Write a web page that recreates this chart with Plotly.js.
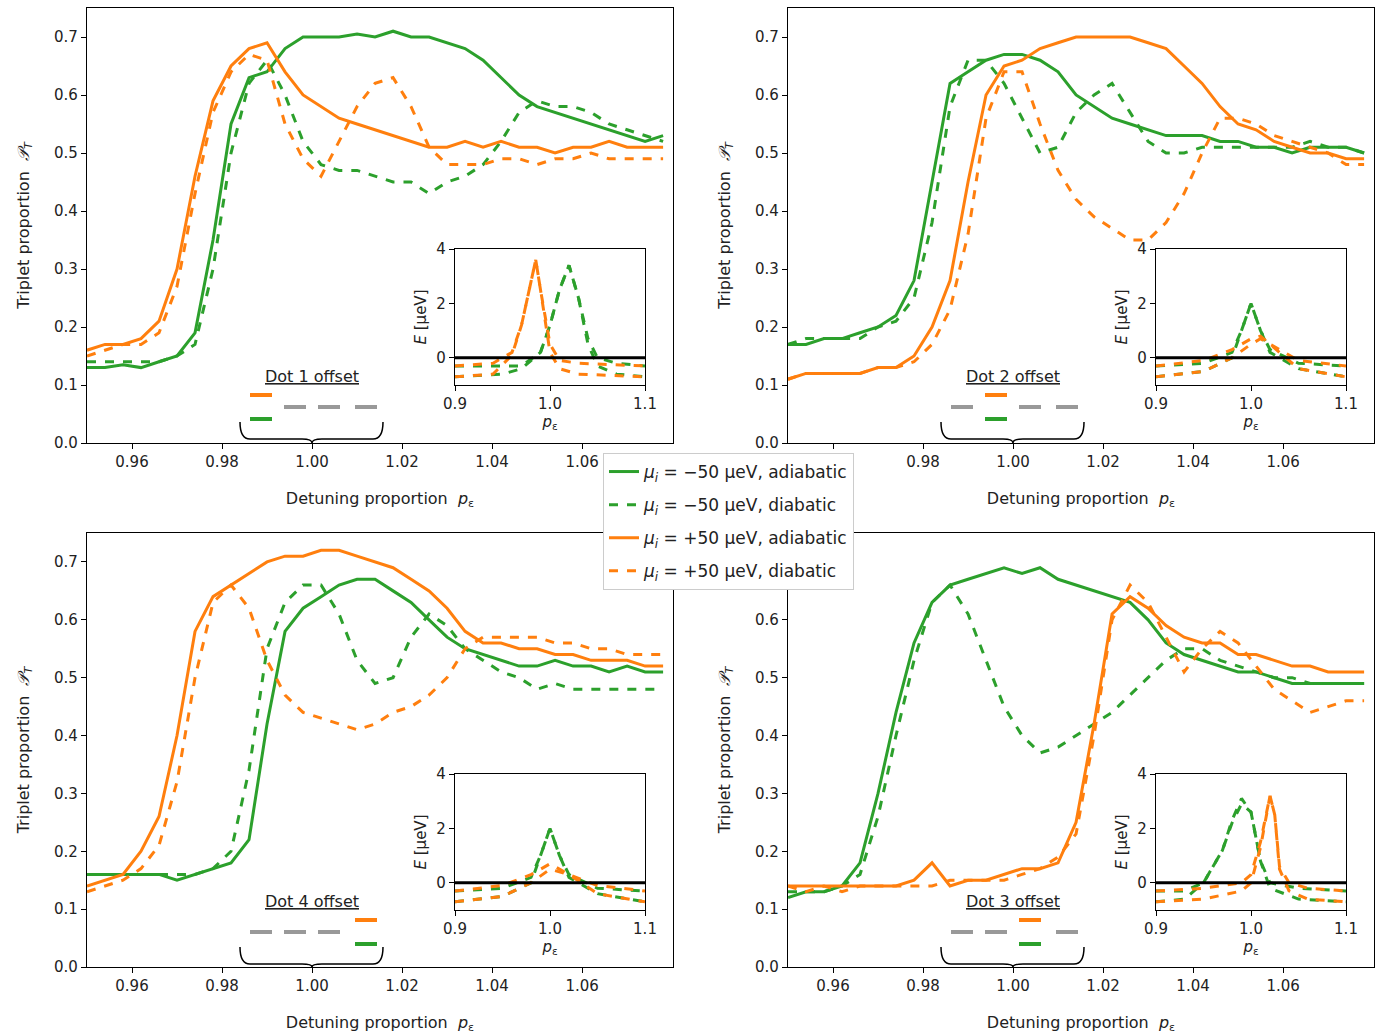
<!DOCTYPE html>
<html>
<head>
<meta charset="utf-8">
<script src="https://cdn.plot.ly/plotly-3.0.1.min.js"></script>
<style>body{margin:0;background:#fff}#chart{width:1384px;height:1034px}</style>
</head>
<body>
<div id="chart"></div>
<script>
var green = '#2ca02c', orange = '#ff7f0e';
var W = 1384, H = 1034;

// detuning grid for main panels
var pe = [];
for (var i = 0; i < 33; i++) pe.push(+(0.95 + 0.004 * i).toFixed(3));

// top-left: Dot 1 offset
var tlGreenAd = [0.13,0.13,0.135,0.13,0.14,0.15,0.19,0.35,0.55,0.63,0.64,0.68,0.70,0.70,0.70,0.705,0.70,0.71,0.70,0.70,0.69,0.68,0.66,0.63,0.60,0.58,0.57,0.56,0.55,0.54,0.53,0.52,0.53];
var tlGreenDi = [0.14,0.14,0.14,0.14,0.14,0.15,0.17,0.30,0.50,0.62,0.66,0.60,0.52,0.48,0.47,0.47,0.46,0.45,0.45,0.43,0.45,0.46,0.48,0.52,0.57,0.59,0.58,0.58,0.57,0.55,0.54,0.53,0.52];
var tlOrangeAd = [0.16,0.17,0.17,0.18,0.21,0.30,0.46,0.59,0.65,0.68,0.69,0.64,0.60,0.58,0.56,0.55,0.54,0.53,0.52,0.51,0.51,0.52,0.51,0.52,0.51,0.51,0.50,0.51,0.51,0.52,0.51,0.51,0.51];
var tlOrangeDi = [0.15,0.16,0.17,0.17,0.19,0.27,0.43,0.57,0.64,0.67,0.66,0.55,0.49,0.46,0.52,0.58,0.62,0.63,0.58,0.51,0.48,0.48,0.48,0.49,0.49,0.48,0.49,0.49,0.50,0.49,0.49,0.49,0.49];

// top-right: Dot 2 offset
var trGreenAd = [0.17,0.17,0.18,0.18,0.19,0.20,0.22,0.28,0.45,0.62,0.64,0.66,0.67,0.67,0.66,0.64,0.60,0.58,0.56,0.55,0.54,0.53,0.53,0.53,0.52,0.52,0.51,0.51,0.50,0.51,0.51,0.51,0.50];
var trGreenDi = [0.17,0.18,0.18,0.18,0.18,0.20,0.21,0.25,0.38,0.58,0.66,0.66,0.62,0.56,0.50,0.51,0.57,0.60,0.62,0.57,0.52,0.50,0.50,0.51,0.51,0.51,0.51,0.51,0.51,0.52,0.51,0.51,0.50];
var trOrangeAd = [0.11,0.12,0.12,0.12,0.12,0.13,0.13,0.15,0.20,0.28,0.45,0.60,0.65,0.66,0.68,0.69,0.70,0.70,0.70,0.70,0.69,0.68,0.65,0.62,0.58,0.55,0.54,0.52,0.51,0.50,0.50,0.49,0.49];
var trOrangeDi = [0.11,0.12,0.12,0.12,0.12,0.13,0.13,0.14,0.17,0.23,0.36,0.56,0.64,0.64,0.55,0.47,0.42,0.39,0.37,0.35,0.35,0.38,0.43,0.50,0.56,0.56,0.55,0.53,0.52,0.51,0.50,0.48,0.48];

// bottom-left: Dot 4 offset
var blGreenAd = [0.16,0.16,0.16,0.16,0.16,0.15,0.16,0.17,0.18,0.22,0.42,0.58,0.62,0.64,0.66,0.67,0.67,0.65,0.63,0.60,0.57,0.55,0.54,0.53,0.52,0.52,0.53,0.52,0.52,0.51,0.52,0.51,0.51];
var blGreenDi = [0.16,0.16,0.16,0.16,0.16,0.16,0.16,0.17,0.20,0.34,0.55,0.63,0.66,0.66,0.61,0.53,0.49,0.50,0.57,0.61,0.59,0.55,0.53,0.51,0.50,0.48,0.49,0.48,0.48,0.48,0.48,0.48,0.48];
var blOrangeAd = [0.14,0.15,0.16,0.20,0.26,0.40,0.58,0.64,0.66,0.68,0.70,0.71,0.71,0.72,0.72,0.71,0.70,0.69,0.67,0.65,0.62,0.58,0.56,0.56,0.55,0.55,0.54,0.54,0.53,0.53,0.53,0.52,0.52];
var blOrangeDi = [0.13,0.14,0.15,0.17,0.21,0.32,0.50,0.63,0.66,0.62,0.53,0.47,0.44,0.43,0.42,0.41,0.42,0.44,0.45,0.47,0.50,0.55,0.57,0.57,0.57,0.57,0.56,0.56,0.55,0.55,0.54,0.54,0.54];

// bottom-right: Dot 3 offset
var brGreenAd = [0.12,0.13,0.13,0.14,0.18,0.30,0.44,0.56,0.63,0.66,0.67,0.68,0.69,0.68,0.69,0.67,0.66,0.65,0.64,0.63,0.60,0.56,0.54,0.53,0.52,0.51,0.51,0.50,0.49,0.49,0.49,0.49,0.49];
var brGreenDi = [0.13,0.13,0.13,0.14,0.16,0.26,0.40,0.53,0.63,0.66,0.61,0.53,0.45,0.40,0.37,0.38,0.40,0.42,0.44,0.47,0.50,0.53,0.55,0.55,0.53,0.52,0.51,0.50,0.50,0.49,0.49,0.49,0.49];
var brOrangeAd = [0.14,0.14,0.14,0.14,0.14,0.14,0.14,0.15,0.18,0.14,0.15,0.15,0.16,0.17,0.17,0.18,0.25,0.42,0.61,0.64,0.62,0.59,0.57,0.56,0.56,0.54,0.54,0.53,0.52,0.52,0.51,0.51,0.51];
var brOrangeDi = [0.14,0.13,0.14,0.13,0.14,0.14,0.14,0.14,0.14,0.15,0.15,0.15,0.15,0.16,0.17,0.19,0.23,0.40,0.60,0.66,0.63,0.57,0.51,0.55,0.58,0.56,0.52,0.48,0.46,0.44,0.45,0.46,0.46];

// insets: energy E [μeV] vs p_ε, two branches per colour
var tlInGx = [0.9,0.95,0.97,0.99,1.0,1.01,1.02,1.03,1.04,1.05,1.07,1.1];
var tlInGa = [-0.3,-0.3,-0.3,0.2,1.2,2.5,3.4,2.2,0.5,-0.3,-0.6,-0.7];
var tlInGb = [-0.7,-0.6,-0.4,0.2,1.2,2.5,3.4,2.2,0.7,0.0,-0.2,-0.3];
var tlInOx = [0.9,0.94,0.96,0.97,0.98,0.985,0.99,1.0,1.01,1.03,1.1];
var tlInOa = [-0.3,-0.2,0.2,1.2,2.8,3.6,2.5,0.2,-0.4,-0.6,-0.7];
var tlInOb = [-0.7,-0.6,0.1,1.2,2.8,3.6,2.5,0.5,-0.1,-0.2,-0.3];

var trInGx = [0.9,0.95,0.98,0.99,1.0,1.01,1.02,1.05,1.1];
var trInGa = [-0.3,-0.2,0.2,1.0,2.0,1.0,0.2,-0.4,-0.7];
var trInGb = [-0.7,-0.5,0.0,1.0,2.0,1.0,0.3,-0.2,-0.3];
var trInOx = [0.9,0.95,0.98,1.0,1.01,1.03,1.05,1.1];
var trInOa = [-0.3,-0.1,0.3,0.7,0.8,0.2,-0.4,-0.7];
var trInOb = [-0.7,-0.5,0.0,0.5,0.7,0.3,-0.1,-0.3];

var blInGx = [0.9,0.95,0.98,0.99,1.0,1.01,1.02,1.05,1.1];
var blInGa = [-0.3,-0.2,0.2,1.0,2.0,1.0,0.2,-0.4,-0.7];
var blInGb = [-0.7,-0.5,0.0,1.0,2.0,1.0,0.3,-0.2,-0.3];
var blInOx = [0.9,0.95,0.98,1.0,1.02,1.05,1.1];
var blInOa = [-0.3,-0.1,0.3,0.7,0.3,-0.4,-0.7];
var blInOb = [-0.7,-0.5,0.0,0.5,0.3,-0.1,-0.3];

var brInGx = [0.9,0.93,0.95,0.97,0.98,0.99,1.0,1.01,1.02,1.05,1.1];
var brInGa = [-0.3,-0.3,0.0,1.2,2.2,2.9,2.6,0.8,-0.2,-0.6,-0.7];
var brInGb = [-0.7,-0.6,0.0,1.2,2.3,3.1,2.6,0.8,0.0,-0.2,-0.3];
var brInOx = [0.9,0.95,0.99,1.0,1.01,1.02,1.025,1.03,1.04,1.06,1.1];
var brInOa = [-0.3,-0.2,0.0,0.3,1.5,3.2,2.5,0.5,-0.3,-0.6,-0.7];
var brInOb = [-0.7,-0.6,-0.3,0.0,1.3,3.2,2.5,0.6,0.0,-0.2,-0.3];

var legendNames = ['<i>μ<sub>i</sub></i> = −50 μeV, adiabatic', '<i>μ<sub>i</sub></i> = −50 μeV, diabatic',
                   '<i>μ<sub>i</sub></i> = +50 μeV, adiabatic', '<i>μ<sub>i</sub></i> = +50 μeV, diabatic'];

var panels = [
  {curves: [tlGreenAd, tlGreenDi, tlOrangeAd, tlOrangeDi], ins: [tlInGx, tlInGa, tlInGb, tlInOx, tlInOa, tlInOb],
   px: [87, 673], py: [8, 443], label: 'Dot 1 offset', slot: 0},
  {curves: [trGreenAd, trGreenDi, trOrangeAd, trOrangeDi], ins: [trInGx, trInGa, trInGb, trInOx, trInOa, trInOb],
   px: [788, 1374], py: [8, 443], label: 'Dot 2 offset', slot: 1},
  {curves: [blGreenAd, blGreenDi, blOrangeAd, blOrangeDi], ins: [blInGx, blInGa, blInGb, blInOx, blInOa, blInOb],
   px: [87, 673], py: [533, 967], label: 'Dot 4 offset', slot: 3},
  {curves: [brGreenAd, brGreenDi, brOrangeAd, brOrangeDi], ins: [brInGx, brInGa, brInGb, brInOx, brInOa, brInOb],
   px: [788, 1374], py: [533, 967], label: 'Dot 3 offset', slot: 2}
];

function fx(p) { return p / W; }
function fy(p) { return 1 - p / H; }

var data = [], shapes = [], annotations = [];
var layout = {
  width: W, height: H, margin: {l: 0, r: 0, t: 0, b: 0},
  paper_bgcolor: '#fff', plot_bgcolor: '#fff',
  font: {family: 'DejaVu Sans, sans-serif', size: 15, color: '#222'},
  showlegend: true,
  legend: {x: fx(603), y: fy(453), xanchor: 'left', yanchor: 'top', bgcolor: '#fff',
           bordercolor: '#ccc', borderwidth: 1, font: {size: 17}, tracegroupgap: 8}
};

function axisBase() {
  return {showgrid: false, zeroline: false, showline: true, mirror: true, linecolor: '#000', linewidth: 1.2,
          ticks: 'outside', ticklen: 5, tickcolor: '#000'};
}

var cols = [green, green, orange, orange];
var dashes = ['solid', 'dash', 'solid', 'dash'];

panels.forEach(function(p, k) {
  var a = 2 * k + 1, b = 2 * k + 2;
  var xm = 'xaxis' + a, ym = 'yaxis' + a, xi = 'xaxis' + b, yi = 'yaxis' + b;
  var xa = axisBase();
  xa.domain = [fx(p.px[0]), fx(p.px[1])]; xa.range = [0.95, 1.0802];
  xa.tickvals = [0.96, 0.98, 1.0, 1.02, 1.04, 1.06]; xa.tickformat = '.2f'; xa.anchor = 'y' + a;
  xa.title = {text: 'Detuning proportion  <i>p</i><sub>ε</sub>', font: {size: 16}, standoff: 22};
  var ya = axisBase();
  ya.domain = [fy(p.py[1]), fy(p.py[0])]; ya.range = [0, 0.75]; ya.dtick = 0.1; ya.tickformat = '.1f';
  ya.anchor = 'x' + a;
  ya.title = {text: 'Triplet proportion  <i>𝒫<sub>T</sub></i>', font: {size: 16}, standoff: 20};
  layout[xm] = xa; layout[ym] = ya;

  p.curves.forEach(function(c, j) {
    data.push({x: pe, y: c, xaxis: 'x' + a, yaxis: 'y' + a, type: 'scatter', mode: 'lines',
               name: legendNames[j], showlegend: k === 0, legendrank: j, legendgroup: 'g' + j,
               line: {color: cols[j], width: 3, dash: dashes[j]}});
  });

  // inset
  var ix0 = p.px[0] + 368, ix1 = p.px[0] + 558, iy0 = p.py[0] + 241, iy1 = p.py[0] + 377;
  var xb = axisBase();
  xb.domain = [fx(ix0), fx(ix1)]; xb.range = [0.9, 1.1]; xb.tickvals = [0.9, 1.0, 1.1]; xb.tickformat = '.1f';
  xb.anchor = 'y' + b; xb.title = {text: '<i>p</i><sub>ε</sub>', font: {size: 15}, standoff: 2};
  var yb = axisBase();
  yb.domain = [fy(iy1), fy(iy0)]; yb.range = [-1, 4]; yb.tickvals = [0, 2, 4]; yb.anchor = 'x' + b;
  yb.title = {text: '<i>E</i> [μeV]', font: {size: 15}, standoff: 6};
  layout[xi] = xb; layout[yi] = yb;

  var ins = p.ins;
  [[ins[0], ins[1], green], [ins[0], ins[2], green], [ins[3], ins[4], orange], [ins[3], ins[5], orange]].forEach(function(t) {
    data.push({x: t[0], y: t[1], xaxis: 'x' + b, yaxis: 'y' + b, type: 'scatter', mode: 'lines',
               showlegend: false, line: {color: t[2], width: 3, dash: 'dash'}});
  });
  data.push({x: [0.9, 1.1], y: [0, 0], xaxis: 'x' + b, yaxis: 'y' + b, type: 'scatter', mode: 'lines',
             showlegend: false, line: {color: '#000', width: 3}});

  // offset sketch: label, dashes, brace
  var cx = p.px[0] + 225, ty = p.py[0] + 368;
  annotations.push({xref: 'paper', yref: 'paper', x: fx(cx), y: fy(ty), xanchor: 'center', yanchor: 'middle',
                    text: '<u>' + p.label + '</u>', showarrow: false, font: {size: 16}});
  var slotX = [-51, -17, 17, 54];
  slotX.forEach(function(off, s) {
    var x0 = cx + off - 11, x1 = cx + off + 11;
    var rows = s === p.slot ? [[ty + 19, orange], [ty + 43, green]] : [[ty + 31, '#999']];
    rows.forEach(function(r) {
      shapes.push({type: 'line', xref: 'paper', yref: 'paper', x0: fx(x0), x1: fx(x1), y0: fy(r[0]), y1: fy(r[0]),
                   line: {color: r[1], width: 4}});
    });
  });
  var bl = cx - 72, br = cx + 71, top = ty + 46, mid = ty + 63, bot = p.py[1];
  function P(x, y) { return fx(x).toFixed(5) + ',' + fy(y).toFixed(5); }
  var path = 'M' + P(bl, top) + ' Q' + P(bl, mid) + ' ' + P(bl + 10, mid) + ' L' + P(cx - 10, mid) +
             ' Q' + P(cx, mid) + ' ' + P(cx, bot) + ' Q' + P(cx, mid) + ' ' + P(cx + 10, mid) +
             ' L' + P(br - 10, mid) + ' Q' + P(br, mid) + ' ' + P(br, top);
  shapes.push({type: 'path', xref: 'paper', yref: 'paper', path: path, line: {color: '#000', width: 1.5}});
});

layout.shapes = shapes;
layout.annotations = annotations;
Plotly.newPlot('chart', data, layout, {displayModeBar: false});
</script>
</body>
</html>
